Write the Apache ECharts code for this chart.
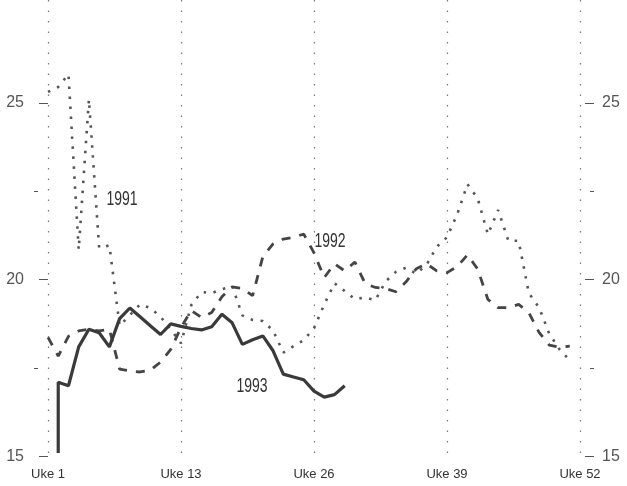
<!DOCTYPE html>
<html>
<head>
<meta charset="utf-8">
<script src="https://cdn.jsdelivr.net/npm/echarts@6/dist/echarts.min.js"></script>
<style>
  html, body { margin: 0; padding: 0; background: #fff; }
  #chart { width: 627px; height: 486px; }
</style>
</head>
<body>
<div id="chart"></div>
<script>
// week positions on the x axis (0 = Uke 1 ... 52 = Uke 52)
var weekTicks = [0, 13, 26, 39, 52]
var weekLabels = ['Uke 1', 'Uke 13', 'Uke 26', 'Uke 39', 'Uke 52']
var yMajor = [15, 20, 25]
var yMinor = [17.5, 22.5]

var weeks91 = [0, 1, 2, 3, 4, 5, 6, 7, 8, 9, 10, 11, 12, 13, 14, 15, 16, 17, 18, 19, 20, 21, 22, 23, 24, 25,
  26, 27, 28, 29, 30, 31, 32, 33, 34, 35, 36, 37, 38, 39, 40, 41, 42, 43, 44, 45, 46, 47, 48, 49, 50, 51]
var values91 = [25.31, 25.45, 25.81, 20.85, 25.1, 20.9, 20.97, 18.7, 19.0, 19.3, 19.2, 18.95, 18.6, 18.2,
  19.28, 19.65, 19.62, 19.73, 19.82, 18.99, 18.86, 18.83, 18.56, 17.94, 18.12, 18.29, 18.63, 19.3, 19.9,
  19.68, 19.45, 19.5, 19.42, 19.95, 20.22, 20.34, 20.17, 20.42, 20.93, 21.2, 21.85, 22.7, 22.3, 21.28,
  21.97, 21.1, 21.1, 19.62, 19.21, 18.47, 18.03, 17.72]

var weeks92 = [0, 1, 2, 3, 4, 5, 6, 7, 8, 9, 10, 11, 12, 13, 14, 15, 16, 17, 18, 19, 20, 21, 22, 23, 24, 25,
  26, 27, 28, 29, 30, 31, 32, 33, 34, 35, 36, 37, 38, 39, 40, 41, 42, 43, 44, 45, 46, 47, 48, 49, 50, 51]
var values92 = [18.37, 17.84, 18.4, 18.55, 18.6, 18.55, 18.6, 17.47, 17.42, 17.39, 17.44, 17.67, 18.03,
  18.65, 19.13, 18.93, 19.07, 19.52, 19.8, 19.75, 19.55, 20.65, 21.01, 21.15, 21.2, 21.29, 20.76, 20.06,
  20.45, 20.25, 20.5, 19.89, 19.78, 19.75, 19.66, 19.94, 20.31, 20.45, 20.25, 20.2, 20.37, 20.7, 20.3,
  19.44, 19.21, 19.21, 19.3, 19.07, 18.51, 18.15, 18.09, 18.12]

var weeks93 = [1, 1, 2, 3, 4, 5, 6, 7, 8, 9, 10, 11, 12, 13, 14, 15, 16, 17, 18, 19, 20, 21, 22, 23, 24,
  25, 26, 27, 28, 29]
var values93 = [15.1, 17.1, 17.0, 18.1, 18.6, 18.5, 18.1, 18.9, 19.2, 18.95, 18.7, 18.45, 18.75, 18.68,
  18.62, 18.58, 18.67, 19.02, 18.78, 18.17, 18.3, 18.41, 17.99, 17.33, 17.25, 17.17, 16.85, 16.68, 16.75, 17.0]

var seriesNames = ['1991', '1992', '1993']

function pairs (xs, ys) {
  return xs.map(function (x, i) { return [x, ys[i]] })
}

var font = "'Liberation Sans', Arial, sans-serif"

var chart = echarts.init(document.getElementById('chart'))

var option = {
  animation: false,
  backgroundColor: '#fff',
  grid: { left: 48, right: 47, top: 0, bottom: 29.5 },
  xAxis: {
    type: 'value',
    min: 0,
    max: 52,
    interval: 13,
    axisLine: { show: false },
    axisTick: { show: false },
    axisLabel: {
      color: '#333',
      fontFamily: font,
      fontSize: 13,
      margin: 11,
      formatter: function (v) {
        var i = weekTicks.indexOf(v)
        return i >= 0 ? weekLabels[i] : ''
      }
    },
    splitLine: {
      show: true,
      lineStyle: { color: '#777', width: 1.2, type: [1.5, 9] }
    }
  },
  yAxis: [
    {
      type: 'value', min: 15, max: 27.91, position: 'left', offset: 5,
      axisLine: { show: false },
      axisTick: { show: true, length: 9, customValues: yMajor, lineStyle: { color: '#555', width: 1 } },
      axisLabel: { customValues: yMajor, color: '#555', fontFamily: font, fontSize: 16, margin: 19 },
      splitLine: { show: false }
    },
    {
      type: 'value', min: 15, max: 27.91, position: 'left', offset: 10,
      axisLine: { show: false },
      axisTick: { show: true, length: 4, customValues: yMinor, lineStyle: { color: '#555', width: 1 } },
      axisLabel: { show: false },
      splitLine: { show: false }
    },
    {
      type: 'value', min: 15, max: 27.91, position: 'right', offset: 5,
      axisLine: { show: false },
      axisTick: { show: true, length: 9, customValues: yMajor, lineStyle: { color: '#555', width: 1 } },
      axisLabel: { customValues: yMajor, color: '#555', fontFamily: font, fontSize: 16, margin: 17 },
      splitLine: { show: false }
    },
    {
      type: 'value', min: 15, max: 27.91, position: 'right', offset: 10,
      axisLine: { show: false },
      axisTick: { show: true, length: 4, customValues: yMinor, lineStyle: { color: '#555', width: 1 } },
      axisLabel: { show: false },
      splitLine: { show: false }
    }
  ],
  series: [
    {
      name: seriesNames[0],
      type: 'line',
      data: pairs(weeks91, values91),
      showSymbol: false,
      lineStyle: { color: '#555', width: 2.6, type: [2.5, 7.5] }
    },
    {
      name: seriesNames[1],
      type: 'line',
      data: pairs(weeks92, values92),
      showSymbol: false,
      lineStyle: { color: '#444', width: 2.8, type: [9, 9] }
    },
    {
      name: seriesNames[2],
      type: 'line',
      data: pairs(weeks93, values93),
      showSymbol: false,
      lineStyle: { color: '#3a3a3a', width: 3.2 }
    }
  ],
  graphic: [
    { type: 'text', x: 122, y: 199, scaleX: 0.7, style: { text: seriesNames[0], font: '20px ' + font, fill: '#333', align: 'center', verticalAlign: 'middle' } },
    { type: 'text', x: 330, y: 241, scaleX: 0.7, style: { text: seriesNames[1], font: '20px ' + font, fill: '#333', align: 'center', verticalAlign: 'middle' } },
    { type: 'text', x: 252, y: 386, scaleX: 0.7, style: { text: seriesNames[2], font: '20px ' + font, fill: '#333', align: 'center', verticalAlign: 'middle' } }
  ]
}

chart.setOption(option)
</script>
</body>
</html>
